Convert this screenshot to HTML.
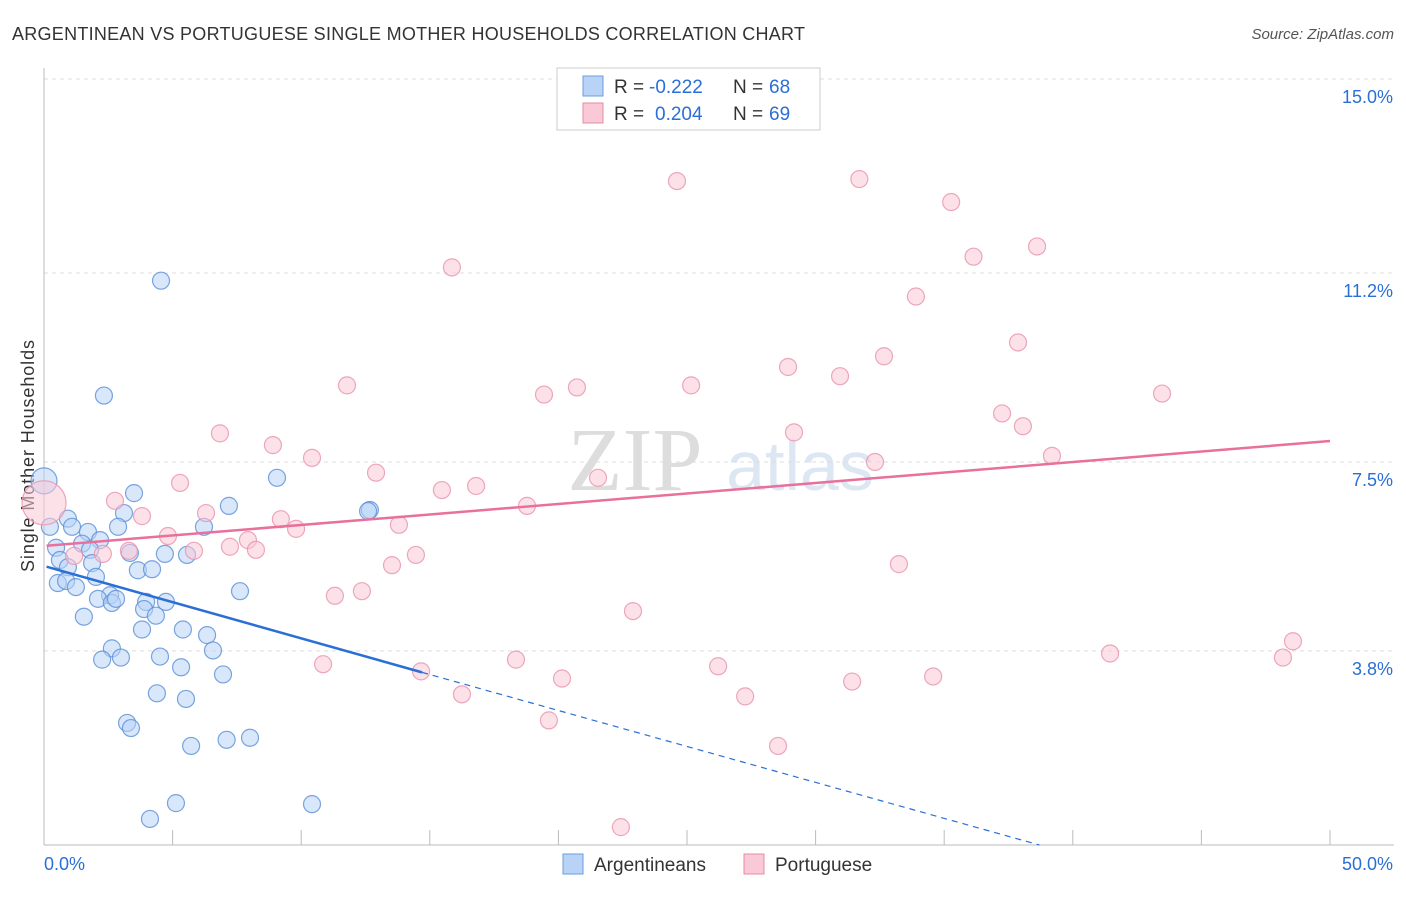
<!DOCTYPE html>
<html><head><meta charset="utf-8"><style>
body{margin:0;background:#fff;font-family:"Liberation Sans",sans-serif}
</style></head><body>
<svg id="c" width="1406" height="892" xmlns="http://www.w3.org/2000/svg">
<text x="12" y="40" font-size="18" fill="#333" textLength="793">ARGENTINEAN VS PORTUGUESE SINGLE MOTHER HOUSEHOLDS CORRELATION CHART</text>
<text x="1394" y="39" font-size="15" fill="#555" font-style="italic" text-anchor="end">Source: ZipAtlas.com</text>
<text x="34" y="456" font-size="18" fill="#333" transform="rotate(-90 34 456)" text-anchor="middle" textLength="232">Single Mother Households</text>
<text x="635" y="490" font-size="90" fill="#ddd" font-family="Liberation Serif" text-anchor="middle">ZIP</text>
<text x="800" y="490" font-size="70" fill="#dde6f3" text-anchor="middle">atlas</text>
<g id="grid"></g><g id="pts"></g><g id="lines"></g>
<g>
<rect x="557" y="68" width="263" height="62" fill="#fff" stroke="#ccc"/>
<rect x="583" y="76" width="20" height="20" fill="#b8d3f5" stroke="#6a9de0"/>
<rect x="583" y="103" width="20" height="20" fill="#f9c9d7" stroke="#e88aa6"/>
<text x="614" y="93" font-size="19" fill="#333">R =</text>
<text x="649" y="93" font-size="19" fill="#2a6fd6">-0.222</text>
<text x="733" y="93" font-size="19" fill="#333">N =</text>
<text x="769" y="93" font-size="19" fill="#2a6fd6">68</text>
<text x="614" y="120" font-size="19" fill="#333">R =</text>
<text x="655" y="120" font-size="19" fill="#2a6fd6">0.204</text>
<text x="733" y="120" font-size="19" fill="#333">N =</text>
<text x="769" y="120" font-size="19" fill="#2a6fd6">69</text>
</g>
<g>
<rect x="563" y="854" width="20" height="20" fill="#b8d3f5" stroke="#6a9de0"/>
<text x="594" y="871" font-size="19" fill="#333">Argentineans</text>
<rect x="744" y="854" width="20" height="20" fill="#f9c9d7" stroke="#e88aa6"/>
<text x="775" y="871" font-size="19" fill="#333">Portuguese</text>
</g>
</svg>
<script>
const yTicks=[15.0,11.2,7.5,3.8];
const yTickLabels=["15.0%","11.2%","7.5%","3.8%"];
const xEnds=["0.0%","50.0%"];
const blueX=[4.55,2.33,0,9.06,7.19,12.67,12.6,3.5,3.11,2.88,6.22,0.93,1.09,0.23,1.71,2.18,1.48,0.47,1.79,3.34,4.7,5.56,0.62,1.87,0.93,2.02,3.65,4.2,0.54,0.86,1.24,7.62,2.57,2.1,2.64,2.8,3.97,4.74,3.89,4.35,1.55,3.81,5.4,6.34,2.64,6.57,4.51,2.26,2.99,5.33,6.96,4.39,5.52,3.23,3.38,7.1,8.01,5.72,5.13,10.42,4.12];
const blueY=[11.05,8.8,7.13,7.19,6.64,6.56,6.54,6.89,6.5,6.23,6.23,6.39,6.23,6.23,6.13,5.97,5.9,5.82,5.78,5.72,5.7,5.68,5.58,5.52,5.44,5.25,5.38,5.4,5.13,5.17,5.05,4.97,4.89,4.82,4.74,4.82,4.76,4.76,4.62,4.49,4.47,4.22,4.22,4.11,3.85,3.81,3.69,3.63,3.67,3.48,3.34,2.97,2.86,2.39,2.29,2.06,2.1,1.94,0.82,0.8,0.51];
const pinkX=[24.61,31.7,35.27,38.61,15.86,36.14,33.9,37.87,32.66,28.93,30.95,11.78,20.72,19.44,25.16,43.47,37.25,6.84,29.16,38.06,8.9,10.42,12.91,32.31,39.19,5.29,21.54,16.8,15.47,2.76,3.81,6.3,18.78,9.21,13.8,9.8,4.82,7.93,7.23,5.83,3.3,8.24,1.17,2.29,14.46,13.53,33.24,12.36,11.31,22.9,48.56,41.45,48.17,18.35,10.85,14.66,26.21,20.14,34.57,31.42,16.25,27.26,19.63,28.54,22.43,0];
const pinkY=[13.0,13.04,12.59,11.72,11.31,11.52,10.74,9.84,9.57,9.36,9.18,9.0,8.96,8.82,9.0,8.84,8.45,8.06,8.08,8.2,7.83,7.58,7.29,7.5,7.62,7.09,7.19,7.03,6.95,6.74,6.44,6.5,6.64,6.38,6.27,6.19,6.05,5.97,5.84,5.76,5.76,5.78,5.66,5.7,5.68,5.48,5.5,4.97,4.88,4.58,3.99,3.75,3.67,3.63,3.54,3.4,3.5,3.26,3.3,3.2,2.95,2.91,2.44,1.94,0.35,6.7];
const blueLine=[0,5.45,14.7,3.38];
const pinkLine=[0,5.86,50,7.91];
const X=v=>44+v*25.72, Y=v=>845-v*51.07;
const NS="http://www.w3.org/2000/svg";
function mk(t,a,p){const e=document.createElementNS(NS,t);for(const k in a)e.setAttribute(k,a[k]);p.appendChild(e);return e;}
const g=document.getElementById('grid');
yTicks.forEach((v,i)=>{
 const l=mk('line',{x1:44,x2:1394,y1:Y(v),y2:Y(v),stroke:'#ddd','stroke-dasharray':'4,4'},g);
 
 
 const t=mk('text',{x:1393,y:Y(v)+24,'font-size':18,fill:'#2a6fd6','text-anchor':'end'},g);
 t.textContent=yTickLabels[i];
 
 
});
const ax=mk('line',{x1:44,x2:44,y1:68,y2:845,stroke:'#bbb'},g);


const bx=mk('line',{x1:44,x2:1394,y1:845,y2:845,stroke:'#bbb'},g);


for(let i=0;i<=10;i++){const t=mk('line',{x1:X(i*5),x2:X(i*5),y1:830,y2:845,stroke:'#bbb'},g);
 
 }
[[0,'start',44],[1,'end',1393]].forEach(([i,a,x])=>{const t=mk('text',{x:x,y:870,'font-size':18,fill:'#2a6fd6','text-anchor':a},g);t.textContent=xEnds[i];
 
 });
const p=document.getElementById('pts');
function pts(xs,ys,f,s,n,bigR){xs.forEach((x,i)=>{const big=(x===0&&(ys[i]>7||ys[i]===6.7));const c=mk('circle',{cx:X(x),cy:Y(ys[i]),r:big?bigR:8.5,fill:f,'fill-opacity':0.55,stroke:s,'stroke-opacity':0.8,'stroke-width':1.2},p);
 
 });}
pts(blueX,blueY,'#b8d3f5','#5a8fd8','argentinean-point',13);
pts(pinkX,pinkY,'#f9c9d7','#e892ad','portuguese-point',22);
const L=document.getElementById('lines');
const b1=mk('line',{x1:X(0.1),y1:Y(blueLine[1]),x2:X(blueLine[2]),y2:Y(blueLine[3]),stroke:'#2a6fd6','stroke-width':2.5},L);


const sl=(blueLine[3]-blueLine[1])/(blueLine[2]-blueLine[0]);const xe=-blueLine[1]/sl;
const b2=mk('line',{x1:X(blueLine[2]),y1:Y(blueLine[3]),x2:X(xe),y2:Y(0),stroke:'#2a6fd6','stroke-width':1.2,'stroke-dasharray':'6,5'},L);


const p1=mk('line',{x1:X(0.1),y1:Y(pinkLine[1]),x2:X(pinkLine[2]),y2:Y(pinkLine[3]),stroke:'#e8709a','stroke-width':2.5},L);


</script>
</body></html>
